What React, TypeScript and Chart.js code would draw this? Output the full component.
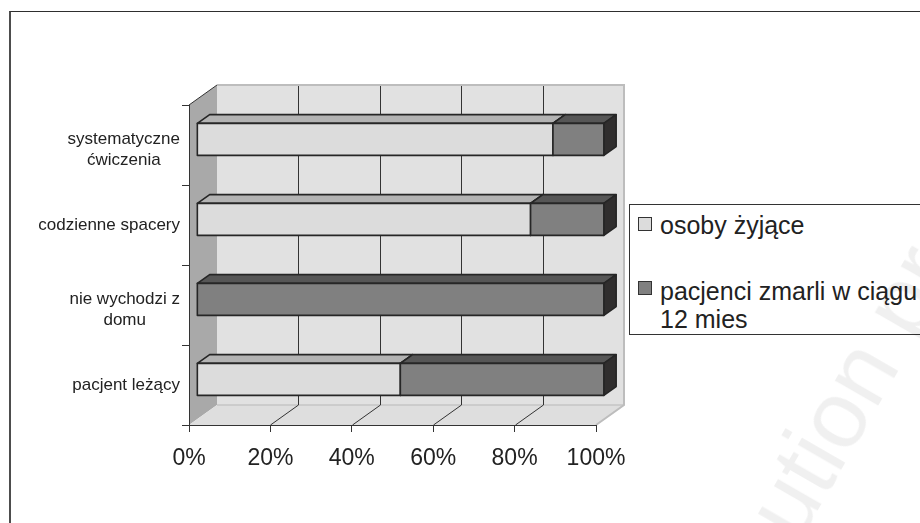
import React, { useEffect, useRef } from "react";
import { Chart, registerables } from "chart.js";

Chart.register(...registerables);

// ---- data ----
const categories: (string | string[])[] = [
  ["systematyczne", "ćwiczenia"],
  "codzienne spacery",
  ["nie wychodzi z", "domu"],
  "pacjent leżący",
];
const seriesNames = ["osoby żyjące", "pacjenci zmarli w ciągu 12 mies"];
const alive = [87.5, 82, 0, 50];
const died = [12.5, 18, 100, 50];
const xTickValues = [0, 20, 40, 60, 80, 100];

// ---- styling ----
const FONT = '"Liberation Sans", Arial, sans-serif';
const DX = 28;
const DY = 20;
const BAR_FRONT = 0.28;
const BAR_BACK = 0.72;
const faceColors = [
  { front: "#dcdcdc", top: "#b3b3b3", side: "#8c8c8c" },
  { front: "#808080", top: "#565656", side: "#302e2e" },
];

function poly(ctx: CanvasRenderingContext2D, pts: number[][], fill?: string, stroke?: boolean) {
  ctx.beginPath();
  ctx.moveTo(pts[0][0], pts[0][1]);
  for (let i = 1; i < pts.length; i++) ctx.lineTo(pts[i][0], pts[i][1]);
  ctx.closePath();
  if (fill) {
    ctx.fillStyle = fill;
    ctx.fill();
  }
  if (stroke) ctx.stroke();
}

function line(ctx: CanvasRenderingContext2D, x1: number, y1: number, x2: number, y2: number) {
  ctx.beginPath();
  ctx.moveTo(x1, y1);
  ctx.lineTo(x2, y2);
  ctx.stroke();
}

const threeD = {
  id: "threeD",
  beforeDraw(chart: any) {
    const { ctx, chartArea: a } = chart;
    const xs = chart.scales.x;
    const L = a.left, R = a.right, T = a.top, B = a.bottom;
    ctx.save();
    // back wall
    ctx.fillStyle = "#e1e1e1";
    ctx.fillRect(L + DX, T - DY, R - L, B - T);
    // left wall
    poly(ctx, [[L, B], [L, T], [L + DX, T - DY], [L + DX, B - DY]], "#a9a9a9");
    // floor
    poly(ctx, [[L, B], [R, B], [R + DX, B - DY], [L + DX, B - DY]], "#dedede");
    // floor back edge
    ctx.strokeStyle = "#c4c4c4";
    ctx.lineWidth = 1.5;
    line(ctx, L + DX, B - DY, R + DX, B - DY);
    // gridlines
    ctx.strokeStyle = "#333";
    ctx.lineWidth = 1;
    xTickValues.forEach((v) => {
      if (v <= xs.min || v >= xs.max) return;
      const px = Math.round(xs.getPixelForValue(v)) + 0.5;
      line(ctx, px + DX, T - DY, px + DX, B - DY);
      line(ctx, px, B, px + DX, B - DY);
    });
    // back wall light border
    ctx.strokeStyle = "#bdbdbd";
    ctx.lineWidth = 2;
    ctx.beginPath();
    ctx.moveTo(L + DX, T - DY);
    ctx.lineTo(R + DX, T - DY);
    ctx.lineTo(R + DX, B - DY);
    ctx.lineTo(R, B);
    ctx.stroke();
    // left wall top edge
    ctx.strokeStyle = "#333";
    ctx.lineWidth = 1;
    line(ctx, L, T, L + DX, T - DY);
    ctx.restore();
  },
  afterDatasetsDraw(chart: any) {
    const ctx: CanvasRenderingContext2D = chart.ctx;
    const fx = BAR_FRONT * DX, fy = -BAR_FRONT * DY;
    const dx = (BAR_BACK - BAR_FRONT) * DX, dy = -(BAR_BACK - BAR_FRONT) * DY;
    ctx.save();
    ctx.lineWidth = 1.6;
    ctx.strokeStyle = "#262626";
    ctx.lineJoin = "round";
    const n = chart.data.labels.length;
    for (let i = 0; i < n; i++) {
      chart.data.datasets.forEach((ds: any, di: number) => {
        const el = chart.getDatasetMeta(di).data[i];
        if (!el) return;
        const p = el.getProps(["x", "y", "base", "height"], true);
        const x0 = Math.min(p.base, p.x), x1 = Math.max(p.base, p.x);
        if (x1 - x0 < 0.5) return;
        const c = faceColors[di];
        const X0 = x0 + fx, X1 = x1 + fx;
        const Y0 = p.y - p.height / 2 + fy, Y1 = p.y + p.height / 2 + fy;
        poly(ctx, [[X0, Y0], [X1, Y0], [X1 + dx, Y0 + dy], [X0 + dx, Y0 + dy]], c.top, true);
        poly(ctx, [[X1, Y0], [X1 + dx, Y0 + dy], [X1 + dx, Y1 + dy], [X1, Y1]], c.side, true);
        poly(ctx, [[X0, Y0], [X1, Y0], [X1, Y1], [X0, Y1]], c.front, true);
      });
    }
    ctx.restore();
  },
  afterDraw(chart: any) {
    const ctx: CanvasRenderingContext2D = chart.ctx;
    const ys = chart.scales.y;
    ctx.save();
    ctx.font = `17px ${FONT}`;
    ctx.fillStyle = "#222";
    ctx.textAlign = "center";
    ctx.textBaseline = "alphabetic";
    const rightEdge = ys.right - 9;
    chart.data.labels.forEach((lab: string | string[], i: number) => {
      const lines = Array.isArray(lab) ? lab : [lab];
      const cy = ys.getPixelForValue(i);
      const w = Math.max(...lines.map((l) => ctx.measureText(l).width));
      const cx = rightEdge - w / 2;
      const first = cy + 4.5 - (lines.length - 1) * 6;
      lines.forEach((l, k) => ctx.fillText(l, cx, first + k * 21.5));
    });
    ctx.restore();
  },
};

export default function App() {
  const ref = useRef<HTMLCanvasElement>(null);

  useEffect(() => {
    if (!ref.current) return;
    const chart = new Chart(ref.current, {
      type: "bar",
      data: {
        labels: categories as any,
        datasets: [
          {
            label: seriesNames[0],
            data: alive,
            backgroundColor: "rgba(0,0,0,0)",
            borderWidth: 0,
            barPercentage: 0.4,
            categoryPercentage: 1,
          },
          {
            label: seriesNames[1],
            data: died,
            backgroundColor: "rgba(0,0,0,0)",
            borderWidth: 0,
            barPercentage: 0.4,
            categoryPercentage: 1,
          },
        ],
      },
      options: {
        indexAxis: "y",
        responsive: false,
        animation: false,
        events: [],
        layout: { padding: { top: 105, right: 324, left: 0, bottom: 0 } },
        plugins: { legend: { display: false }, tooltip: { enabled: false } },
        scales: {
          x: {
            type: "linear",
            stacked: true,
            min: 0,
            max: 100,
            afterBuildTicks: (s: any) => {
              s.ticks = xTickValues.map((v) => ({ value: v }));
            },
            afterFit: (s: any) => {
              s.height = 98;
            },
            ticks: {
              callback: (v: any) => `${v}%`,
              font: { size: 23, family: FONT },
              color: "#222",
              padding: 13,
              maxRotation: 0,
              autoSkip: false,
            },
            grid: { drawOnChartArea: false, drawTicks: true, tickLength: 7, color: "#333", lineWidth: 1 },
            border: { display: true, color: "#333", width: 1 },
          },
          y: {
            type: "category",
            stacked: true,
            afterFit: (s: any) => {
              s.width = 189;
            },
            ticks: { display: false },
            grid: { drawOnChartArea: false, drawTicks: true, tickLength: 7, color: "#333", lineWidth: 1, offset: true },
            border: { display: true, color: "#333", width: 1 },
          },
        },
      } as any,
      plugins: [threeD],
    });
    return () => chart.destroy();
  }, []);

  const textStyle: React.CSSProperties = {
    position: "absolute",
    left: 660,
    font: `25px ${FONT}`,
    lineHeight: "28px",
    color: "#222",
    width: 264,
    whiteSpace: "normal",
  };
  const wm: React.CSSProperties = {
    position: "absolute",
    top: -85,
    font: `95px ${FONT}`,
    lineHeight: "100px",
    color: "rgba(0,0,0,0.06)",
    whiteSpace: "nowrap",
  };

  return (
    <div
      style={{
        position: "fixed",
        left: 0,
        top: 0,
        width: 920,
        height: 523,
        overflow: "hidden",
        background: "#fff",
      }}
    >
      <div
        style={{
          position: "absolute",
          left: 9,
          top: 11,
          width: 1000,
          height: 1000,
          borderLeft: "2px solid #4d4d4d",
          borderTop: "1.5px solid #2e2e2e",
        }}
      />
      <canvas ref={ref} width={920} height={523} style={{ position: "absolute", left: 0, top: 0 }} />
      <div
        style={{
          position: "absolute",
          left: 629,
          top: 204,
          width: 400,
          height: 131,
          boxSizing: "border-box",
          border: "1px solid #333",
          background: "#fff",
        }}
      />
      <div
        style={{
          position: "absolute",
          left: 638,
          top: 217,
          width: 14,
          height: 14,
          boxSizing: "border-box",
          border: "1px solid #333",
          background: faceColors[0].front,
        }}
      />
      <div style={{ ...textStyle, top: 211 }}>{seriesNames[0]}</div>
      <div
        style={{
          position: "absolute",
          left: 638,
          top: 281,
          width: 14,
          height: 14,
          boxSizing: "border-box",
          border: "1px solid #333",
          background: faceColors[1].front,
        }}
      />
      <div style={{ ...textStyle, top: 277 }}>{seriesNames[1]}</div>
      <div
        style={{
          position: "absolute",
          left: 800,
          top: 545,
          transform: "rotate(-60deg)",
          transformOrigin: "0 0",
          pointerEvents: "none",
        }}
      >
        <div style={{ ...wm, left: 0 }}>ution prohibited</div>
        <div style={{ ...wm, right: 0 }}>distrib</div>
      </div>
    </div>
  );
}
